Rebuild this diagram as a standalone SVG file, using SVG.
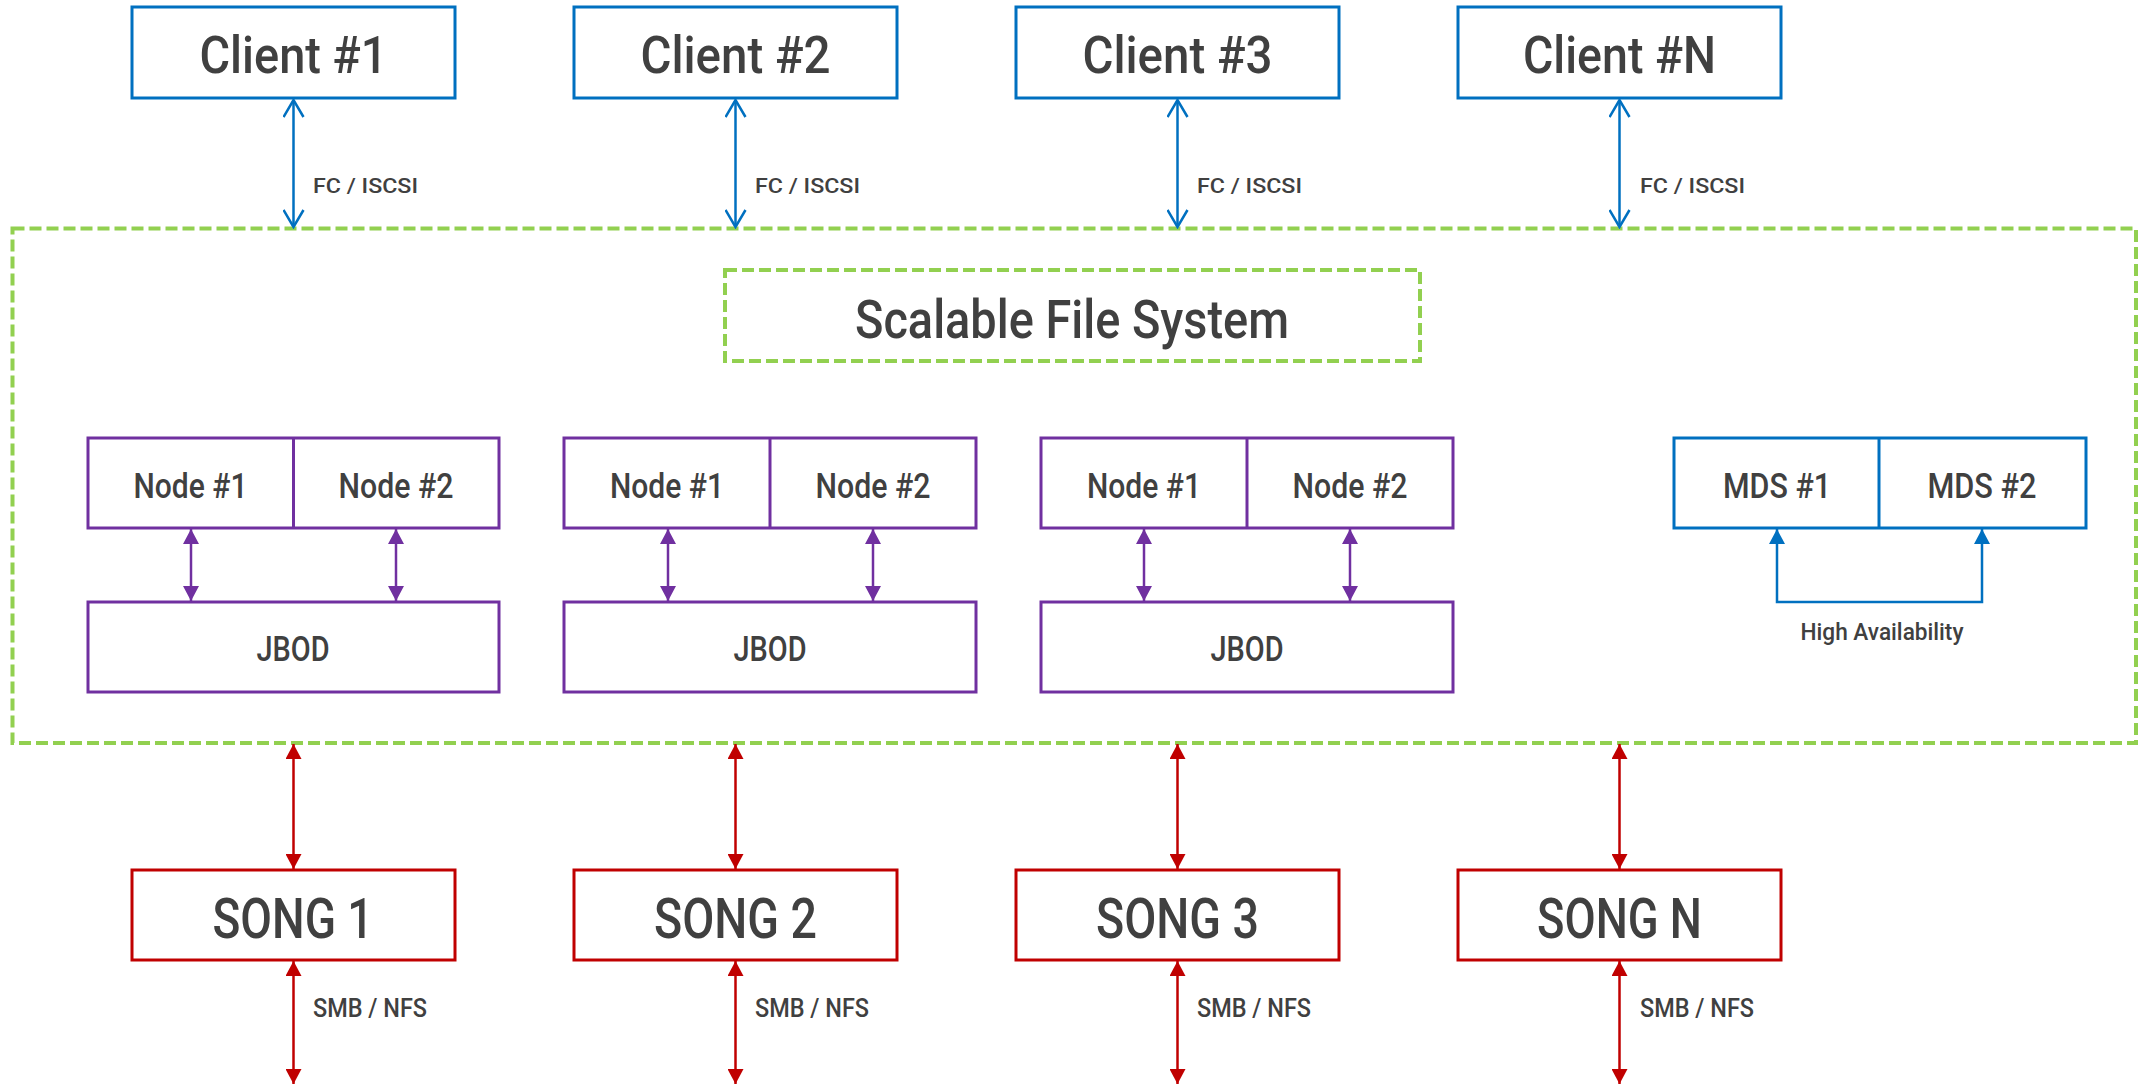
<svg xmlns="http://www.w3.org/2000/svg" width="2145" height="1087" viewBox="0 0 2145 1087">
<style>
  text { font-family: Roboto, "DejaVu Sans Condensed", "Liberation Sans", sans-serif; font-weight: 500; fill: #404040; text-anchor: middle; }
  .blue { fill: #ffffff; stroke: #0070C0; stroke-width: 3; }
  .purple { fill: #ffffff; stroke: #7030A0; stroke-width: 3; }
  .red { fill: #ffffff; stroke: #C00000; stroke-width: 3; }
  .green { fill: none; stroke: #92D050; stroke-width: 4; stroke-dasharray: 12 5; }
  .cb { stroke: #0070C0; stroke-width: 2.5; fill: none; }
  .cp { stroke: #7030A0; stroke-width: 2.5; fill: none; }
  .cr { stroke: #C00000; stroke-width: 2.5; fill: none; }
  .big { font-size: 52px; }
  .mid { font-size: 35px; }
  .lbl { font-size: 21px; text-anchor: start; }
</style>
<defs>
  <marker id="vBlue" markerUnits="userSpaceOnUse" viewBox="0 0 20 22" markerWidth="20" markerHeight="22" refX="18" refY="11" orient="auto-start-reverse">
    <path d="M1,1 L18,11 L1,21" fill="none" stroke="#0070C0" stroke-width="2.5"/>
  </marker>
  <marker id="tBlue" markerUnits="userSpaceOnUse" viewBox="0 0 15 16" markerWidth="15" markerHeight="16" refX="15" refY="8" orient="auto-start-reverse">
    <path d="M0,0 L15,8 L0,16 Z" fill="#0070C0"/>
  </marker>
  <marker id="tPurple" markerUnits="userSpaceOnUse" viewBox="0 0 15 16" markerWidth="15" markerHeight="16" refX="15" refY="8" orient="auto-start-reverse">
    <path d="M0,0 L15,8 L0,16 Z" fill="#7030A0"/>
  </marker>
  <marker id="tRed" markerUnits="userSpaceOnUse" viewBox="0 0 15 16" markerWidth="15" markerHeight="16" refX="15" refY="8" orient="auto-start-reverse">
    <path d="M0,0 L15,8 L0,16 Z" fill="#C00000"/>
  </marker>
</defs>
<rect width="2145" height="1087" fill="#ffffff"/>

<g id="scalable-fs-container">
  <rect class="green" x="12.5" y="228.5" width="2123.5" height="514.5"/>
</g>
<g id="scalable-fs-title">
  <rect class="green" x="725" y="270" width="695" height="91"/>
  <text class="big" x="1072" y="338" style="font-size:54px" textLength="434" lengthAdjust="spacingAndGlyphs">Scalable File System</text>
</g>

<g id="client-1"><rect class="blue" x="132" y="7" width="323" height="91"/><text class="big" x="293.5" y="73" textLength="188" lengthAdjust="spacingAndGlyphs">Client #1</text></g>
<g id="client-2"><rect class="blue" x="574" y="7" width="323" height="91"/><text class="big" x="735.5" y="73" textLength="190" lengthAdjust="spacingAndGlyphs">Client #2</text></g>
<g id="client-3"><rect class="blue" x="1016" y="7" width="323" height="91"/><text class="big" x="1177.5" y="73" textLength="190" lengthAdjust="spacingAndGlyphs">Client #3</text></g>
<g id="client-n"><rect class="blue" x="1458" y="7" width="323" height="91"/><text class="big" x="1619.5" y="73" textLength="193" lengthAdjust="spacingAndGlyphs">Client #N</text></g>

<g id="node-group-1">
  <rect class="purple" x="88" y="438" width="411" height="90"/>
  <line class="purple" x1="293.5" y1="438" x2="293.5" y2="528"/>
  <text class="mid" x="190.5" y="498" textLength="114" lengthAdjust="spacingAndGlyphs">Node #1</text>
  <text class="mid" x="396" y="498" textLength="115" lengthAdjust="spacingAndGlyphs">Node #2</text>
</g>
<g id="jbod-1"><rect class="purple" x="88" y="602" width="411" height="90"/><text class="mid" x="293" y="661" textLength="73" lengthAdjust="spacingAndGlyphs">JBOD</text></g>

<g id="node-group-2">
  <rect class="purple" x="564" y="438" width="412" height="90"/>
  <line class="purple" x1="770" y1="438" x2="770" y2="528"/>
  <text class="mid" x="667" y="498" textLength="114" lengthAdjust="spacingAndGlyphs">Node #1</text>
  <text class="mid" x="873" y="498" textLength="115" lengthAdjust="spacingAndGlyphs">Node #2</text>
</g>
<g id="jbod-2"><rect class="purple" x="564" y="602" width="412" height="90"/><text class="mid" x="770" y="661" textLength="73" lengthAdjust="spacingAndGlyphs">JBOD</text></g>

<g id="node-group-3">
  <rect class="purple" x="1041" y="438" width="412" height="90"/>
  <line class="purple" x1="1247" y1="438" x2="1247" y2="528"/>
  <text class="mid" x="1144" y="498" textLength="114" lengthAdjust="spacingAndGlyphs">Node #1</text>
  <text class="mid" x="1350" y="498" textLength="115" lengthAdjust="spacingAndGlyphs">Node #2</text>
</g>
<g id="jbod-3"><rect class="purple" x="1041" y="602" width="412" height="90"/><text class="mid" x="1247" y="661" textLength="73" lengthAdjust="spacingAndGlyphs">JBOD</text></g>

<g id="mds">
  <rect class="blue" x="1674" y="438" width="412" height="90"/>
  <line class="blue" x1="1879" y1="438" x2="1879" y2="528"/>
  <text class="mid" x="1777" y="498" textLength="108" lengthAdjust="spacingAndGlyphs">MDS #1</text>
  <text class="mid" x="1982" y="498" textLength="109" lengthAdjust="spacingAndGlyphs">MDS #2</text>
</g>

<g id="song-1"><rect class="red" x="132" y="870" width="323" height="90"/><text class="big" x="293" y="938" style="font-size:55px" textLength="161" lengthAdjust="spacingAndGlyphs">SONG 1</text></g>
<g id="song-2"><rect class="red" x="574" y="870" width="323" height="90"/><text class="big" x="735.5" y="938" style="font-size:55px" textLength="163" lengthAdjust="spacingAndGlyphs">SONG 2</text></g>
<g id="song-3"><rect class="red" x="1016" y="870" width="323" height="90"/><text class="big" x="1177.5" y="938" style="font-size:55px" textLength="163" lengthAdjust="spacingAndGlyphs">SONG 3</text></g>
<g id="song-n"><rect class="red" x="1458" y="870" width="323" height="90"/><text class="big" x="1619.5" y="938" style="font-size:55px" textLength="165" lengthAdjust="spacingAndGlyphs">SONG N</text></g>

<g id="connectors">
  <line class="cb" x1="293.5" y1="100" x2="293.5" y2="227" marker-start="url(#vBlue)" marker-end="url(#vBlue)"/>
  <line class="cb" x1="735.5" y1="100" x2="735.5" y2="227" marker-start="url(#vBlue)" marker-end="url(#vBlue)"/>
  <line class="cb" x1="1177.5" y1="100" x2="1177.5" y2="227" marker-start="url(#vBlue)" marker-end="url(#vBlue)"/>
  <line class="cb" x1="1619.5" y1="100" x2="1619.5" y2="227" marker-start="url(#vBlue)" marker-end="url(#vBlue)"/>
  <text class="lbl" x="313" y="193" textLength="105" lengthAdjust="spacingAndGlyphs">FC / ISCSI</text>
  <text class="lbl" x="755" y="193" textLength="105" lengthAdjust="spacingAndGlyphs">FC / ISCSI</text>
  <text class="lbl" x="1197" y="193" textLength="105" lengthAdjust="spacingAndGlyphs">FC / ISCSI</text>
  <text class="lbl" x="1640" y="193" textLength="105" lengthAdjust="spacingAndGlyphs">FC / ISCSI</text>

  <line class="cp" x1="191" y1="529" x2="191" y2="601" marker-start="url(#tPurple)" marker-end="url(#tPurple)"/>
  <line class="cp" x1="396" y1="529" x2="396" y2="601" marker-start="url(#tPurple)" marker-end="url(#tPurple)"/>
  <line class="cp" x1="668" y1="529" x2="668" y2="601" marker-start="url(#tPurple)" marker-end="url(#tPurple)"/>
  <line class="cp" x1="873" y1="529" x2="873" y2="601" marker-start="url(#tPurple)" marker-end="url(#tPurple)"/>
  <line class="cp" x1="1144" y1="529" x2="1144" y2="601" marker-start="url(#tPurple)" marker-end="url(#tPurple)"/>
  <line class="cp" x1="1350" y1="529" x2="1350" y2="601" marker-start="url(#tPurple)" marker-end="url(#tPurple)"/>

  <polyline class="cb" points="1777,529 1777,602 1982,602 1982,529" marker-start="url(#tBlue)" marker-end="url(#tBlue)"/>
  <text class="lbl" x="1882" y="640" style="text-anchor:middle;font-size:24px" textLength="163" lengthAdjust="spacingAndGlyphs">High Availability</text>

  <line class="cr" x1="293.5" y1="744" x2="293.5" y2="869" marker-start="url(#tRed)" marker-end="url(#tRed)"/>
  <line class="cr" x1="735.5" y1="744" x2="735.5" y2="869" marker-start="url(#tRed)" marker-end="url(#tRed)"/>
  <line class="cr" x1="1177.5" y1="744" x2="1177.5" y2="869" marker-start="url(#tRed)" marker-end="url(#tRed)"/>
  <line class="cr" x1="1619.5" y1="744" x2="1619.5" y2="869" marker-start="url(#tRed)" marker-end="url(#tRed)"/>

  <line class="cr" x1="293.5" y1="961" x2="293.5" y2="1084" marker-start="url(#tRed)" marker-end="url(#tRed)"/>
  <line class="cr" x1="735.5" y1="961" x2="735.5" y2="1084" marker-start="url(#tRed)" marker-end="url(#tRed)"/>
  <line class="cr" x1="1177.5" y1="961" x2="1177.5" y2="1084" marker-start="url(#tRed)" marker-end="url(#tRed)"/>
  <line class="cr" x1="1619.5" y1="961" x2="1619.5" y2="1084" marker-start="url(#tRed)" marker-end="url(#tRed)"/>
  <text class="lbl" x="313" y="1017" style="font-size:25px" textLength="114" lengthAdjust="spacingAndGlyphs">SMB / NFS</text>
  <text class="lbl" x="755" y="1017" style="font-size:25px" textLength="114" lengthAdjust="spacingAndGlyphs">SMB / NFS</text>
  <text class="lbl" x="1197" y="1017" style="font-size:25px" textLength="114" lengthAdjust="spacingAndGlyphs">SMB / NFS</text>
  <text class="lbl" x="1640" y="1017" style="font-size:25px" textLength="114" lengthAdjust="spacingAndGlyphs">SMB / NFS</text>
</g>
</svg>
